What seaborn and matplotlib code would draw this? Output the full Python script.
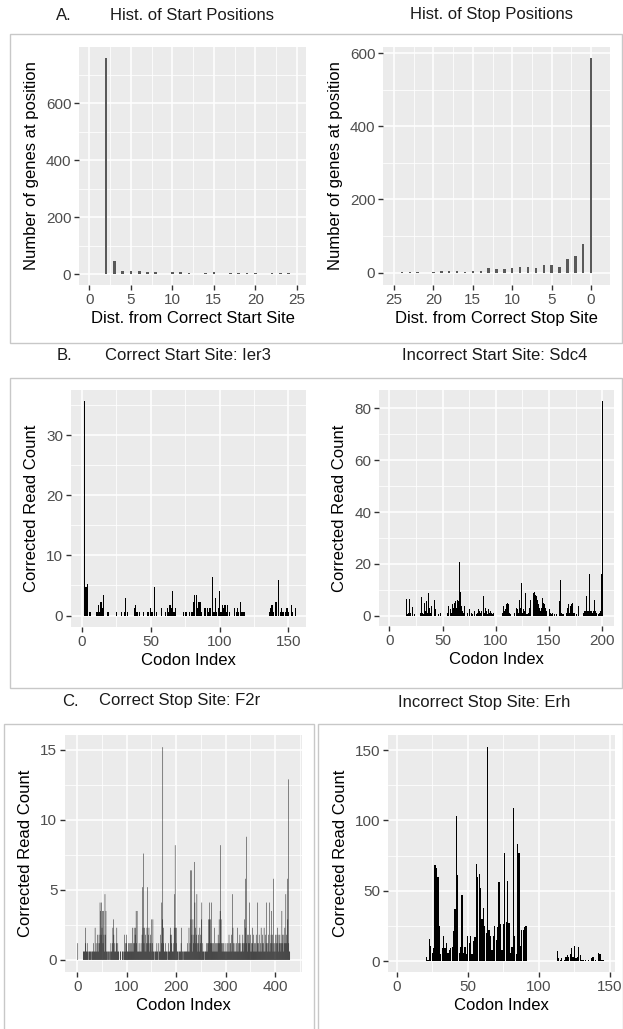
import matplotlib
matplotlib.use("Agg")
import matplotlib.pyplot as plt
from matplotlib.patches import Rectangle
import seaborn as sns

# A. histograms of start / stop positions
start_dist = [2, 3, 4, 5, 6, 7, 8, 9, 10, 11, 12, 13, 14, 15, 16, 17, 18, 19, 20, 21, 22, 23, 24]
start_count = [758, 47, 12, 10, 10, 9, 7, 2, 6, 6, 5, 2, 4, 6, 1, 3, 4, 3, 4, 2, 3, 3, 3]
stop_dist = [0, 1, 2, 3, 4, 5, 6, 7, 8, 9, 10, 11, 12, 13, 14, 15, 16, 17, 18, 19, 20, 21, 22, 23, 24]
stop_count = [587, 77, 46, 37, 16, 21, 21, 12, 14, 14, 12, 11, 11, 12, 5, 4, 2, 4, 5, 4, 2, 0, 1, 1, 1]

# B. correct start site: Ier3
ier3_codon = [2, 3, 4, 6, 11, 12, 13, 14, 15, 16, 19, 25, 29, 31, 32, 33, 38, 39, 40, 42,
              45, 48, 50, 51, 53, 54, 58, 61, 62, 63, 64, 65, 66, 67, 68, 74, 75, 76, 78, 80,
              81, 82, 83, 84, 85, 86, 87, 89, 90, 91, 92, 93, 95, 96, 97, 98, 99, 100, 101, 102,
              103, 104, 105, 106, 107, 111, 112, 113, 114, 115, 116, 117, 118, 136, 137, 138, 139, 141, 143, 144,
              145, 146, 148, 149, 150, 152, 153, 155]
ier3_count = [35.7, 4.7, 5.2, 0.6, 0.6, 1.8, 0.6, 2.3, 1.2, 3.5, 0.6, 0.6, 0.6, 0.6, 2.9, 0.6, 1.2, 1.8, 0.6, 0.6,
              0.6, 0.6, 1.2, 0.6, 4.7, 0.6, 1.2, 0.6, 1.2, 0.6, 1.8, 1.2, 4.1, 0.6, 1.2, 0.6, 0.6, 0.6, 0.6, 0.6,
              2.3, 3.5, 3.5, 1.2, 2.3, 2.3, 0.6, 1.2, 1.2, 1.2, 0.6, 1.2, 6.4, 0.6, 2.9, 0.6, 1.2, 4.1, 0.6, 1.8,
              1.2, 1.8, 0.6, 1.8, 0.6, 1.2, 0.6, 1.2, 0.6, 2.3, 0.6, 0.6, 0.6, 0.6, 1.2, 1.8, 0.6, 2.3, 5.9, 0.6,
              1.2, 0.6, 0.6, 1.2, 0.6, 1.8, 0.6, 1.2]

# B. incorrect start site: Sdc4
sdc4_codon = [16, 17, 18, 19, 20, 22, 24, 29, 30, 31, 32, 33, 34, 35, 36, 37, 38, 39, 40, 41,
              42, 43, 46, 48, 55, 56, 57, 58, 59, 60, 61, 62, 63, 64, 65, 66, 67, 68, 69, 70,
              71, 72, 73, 75, 77, 78, 80, 82, 83, 84, 85, 86, 87, 88, 89, 90, 91, 92, 93, 94,
              95, 96, 97, 98, 103, 106, 107, 108, 109, 110, 111, 112, 113, 114, 118, 119, 120, 121, 122, 123,
              124, 125, 126, 127, 128, 129, 130, 131, 132, 133, 134, 135, 136, 137, 138, 139, 140, 141, 142, 143,
              144, 145, 146, 147, 148, 149, 150, 151, 152, 153, 155, 157, 160, 161, 162, 163, 164, 166, 167, 168,
              169, 170, 171, 172, 173, 174, 176, 178, 180, 182, 183, 184, 185, 186, 187, 188, 189, 190, 191, 192,
              193, 194, 195, 196, 197, 198, 199, 200]
sdc4_count = [6.4, 0.6, 1.2, 6.4, 1.2, 3.2, 0.6, 1.2, 7.1, 1.2, 0.6, 5.0, 1.9, 5.6, 1.2, 8.7, 3.1, 1.2, 3.7, 8.2,
              6.2, 2.5, 0.6, 1.2, 1.2, 3.7, 2.5, 1.2, 4.4, 3.1, 5.0, 5.6, 3.1, 6.2, 5.6, 20.6, 9.3, 3.7, 1.9, 1.2,
              3.7, 0.6, 1.2, 2.5, 1.2, 0.6, 1.9, 0.6, 1.2, 2.5, 1.9, 1.2, 1.9, 7.6, 1.2, 3.1, 1.9, 0.6, 2.5, 1.2,
              1.9, 1.2, 0.6, 1.2, 0.6, 1.2, 3.7, 1.9, 2.5, 4.4, 5.0, 4.4, 1.2, 0.6, 1.2, 3.1, 2.5, 1.2, 6.2, 3.1,
              12.5, 1.2, 2.5, 1.9, 8.7, 0.6, 0.6, 1.2, 3.1, 6.2, 9.9, 8.7, 9.3, 8.1, 7.5, 6.2, 4.4, 3.1, 1.9, 3.1,
              6.8, 5.0, 4.4, 3.1, 1.9, 2.5, 2.5, 1.2, 0.6, 1.2, 0.6, 0.6, 5.6, 13.6, 1.2, 0.6, 0.6, 1.2, 3.1, 4.4,
              1.2, 3.7, 4.4, 5.0, 1.2, 1.2, 0.6, 3.7, 0.6, 1.2, 1.9, 1.9, 7.5, 1.9, 1.9, 16.0, 1.9, 1.9, 1.2, 1.9,
              6.2, 1.9, 1.2, 0.6, 1.2, 1.9, 16.0, 83.0]

# C. correct stop site: F2r (one value per codon, starting at codon 0)
f2r_count = [
    0, 1.2, 0, 0, 0, 0, 0, 0, 0, 0,
    0, 0, 0.6, 0.6, 0.6, 0.6, 1.2, 2.3, 0.6, 0.6,
    1.2, 0.6, 0.6, 0, 0.6, 0.6, 0.6, 0.6, 0, 0.6,
    0.6, 0.6, 0.6, 1.2, 0.6, 0.6, 2.3, 0.6, 1.2, 0.6,
    0.6, 1.8, 1.2, 0.6, 1.8, 1.2, 4.1, 3.5, 1.8, 4.1,
    2.3, 3.5, 1.2, 3.5, 1.8, 0.6, 4.7, 1.8, 3.5, 0.6,
    0.6, 0.6, 0, 0.6, 0.6, 0.6, 0, 0.6, 1.2, 0.6,
    0.6, 1.2, 2.3, 2.9, 1.8, 0.6, 1.2, 0.6, 0.6, 1.2,
    2.3, 0.6, 1.2, 0.6, 0.6, 0, 0, 0.6, 0.6, 0,
    0, 0.6, 0.6, 0, 0.6, 1.8, 0.6, 1.2, 0.6, 1.8,
    1.2, 0.6, 0.6, 1.2, 0.6, 1.2, 0.6, 0.6, 1.2, 0.6,
    1.2, 0.6, 2.3, 0.6, 1.2, 2.3, 1.2, 1.8, 2.3, 3.5,
    1.2, 3.5, 0.6, 0.6, 0.6, 1.2, 0.6, 0.6, 0.6, 1.2,
    0.6, 1.8, 5.2, 2.3, 7.6, 1.2, 2.3, 0.6, 1.8, 0.6,
    1.2, 2.3, 5.2, 1.2, 1.8, 2.3, 0.6, 1.2, 1.8, 1.2,
    2.9, 0.6, 1.2, 2.9, 0.6, 0.6, 0, 0.6, 0.6, 0.6,
    0.6, 1.2, 0.6, 0.6, 0, 1.2, 0.6, 0.6, 1.8, 0.6,
    1.2, 4.1, 2.9, 15.2, 2.3, 1.2, 0.6, 0.6, 1.2, 0.6,
    0.6, 0.6, 0, 0.6, 0.6, 1.2, 0.6, 0.6, 1.8, 2.3,
    1.2, 1.8, 0.6, 0.6, 1.2, 0.6, 2.3, 4.7, 8.2, 2.3,
    1.2, 2.3, 0.6, 0.6, 0.6, 0, 0.6, 0.6, 0.6, 0.6,
    1.2, 2.3, 0.6, 0.6, 0, 0.6, 0.6, 0.6, 0.6, 0.6,
    0.6, 0.6, 0.6, 1.2, 0.6, 0.6, 2.3, 0.6, 1.2, 6.4,
    2.9, 6.4, 1.8, 0.6, 2.9, 1.2, 1.8, 7.0, 4.1, 2.3,
    1.2, 1.8, 4.7, 1.2, 0.6, 1.8, 1.2, 0.6, 2.3, 1.2,
    1.8, 2.9, 4.1, 0.6, 1.2, 0.6, 0.6, 0, 0.6, 0.6,
    0.6, 1.2, 0.6, 0.6, 1.2, 2.9, 1.2, 4.1, 2.9, 1.2,
    2.9, 4.1, 1.2, 0.6, 1.2, 0.6, 1.2, 0.6, 2.3, 0.6,
    1.2, 0.6, 1.2, 0.6, 1.2, 1.8, 1.2, 2.9, 1.2, 3.5,
    8.2, 2.9, 1.2, 0.6, 1.2, 0.6, 1.2, 0.6, 0.6, 1.2,
    0.6, 0.6, 0.6, 1.2, 0.6, 1.2, 0.6, 1.8, 0.6, 1.2,
    1.2, 0.6, 1.8, 0.6, 4.7, 2.3, 1.2, 0.6, 0.6, 1.2,
    0.6, 0.6, 1.2, 0.6, 2.3, 0.6, 1.2, 0.6, 1.2, 1.8,
    0.6, 1.2, 0.6, 0.6, 1.2, 1.8, 1.2, 0.6, 2.9, 1.2,
    5.8, 2.3, 8.8, 1.2, 1.8, 0.6, 1.2, 1.8, 4.1, 1.2,
    1.8, 0.6, 1.2, 0.6, 1.2, 2.3, 0.6, 1.8, 1.2, 0.6,
    1.2, 0.6, 1.8, 0.6, 1.2, 4.1, 0.6, 1.2, 1.8, 0.6,
    0.6, 1.2, 2.3, 0.6, 1.2, 1.8, 0.6, 1.2, 2.3, 0.6,
    0.6, 1.8, 1.2, 4.1, 1.2, 0.6, 1.2, 1.8, 0.6, 4.1,
    0.6, 1.2, 1.8, 3.5, 1.2, 1.8, 0.6, 5.8, 1.2, 0.6,
    1.2, 1.8, 0.6, 1.2, 1.8, 2.3, 1.2, 0.6, 1.8, 1.2,
    1.8, 1.2, 0.6, 1.2, 3.5, 1.8, 1.2, 0.6, 1.8, 1.2,
    2.3, 1.2, 4.7, 1.8, 1.2, 5.8, 2.9, 12.9, 1.2, 0.6,
    0.6, 0,
]
f2r_codon = list(range(len(f2r_count)))

# C. incorrect stop site: Erh
erh_codon = [21, 22, 23, 24, 25, 26, 27, 28, 29, 30, 31, 32, 33, 34, 35, 36, 37, 38, 39, 40,
             41, 42, 43, 44, 45, 46, 47, 48, 49, 50, 51, 52, 53, 54, 55, 56, 57, 58, 59, 60,
             61, 62, 63, 64, 65, 66, 67, 68, 69, 70, 71, 72, 73, 74, 75, 76, 77, 78, 79, 80,
             81, 82, 83, 84, 85, 86, 87, 88, 89, 90, 91,
             113, 114, 115, 116, 118, 119, 120, 121, 122, 123, 124, 125, 126, 127, 128, 129, 130, 131, 133, 135,
             137, 138, 140, 142, 143, 144, 145]
erh_count = [3, 1, 16, 11, 6, 9, 68, 66, 60, 25, 5, 9, 18, 9, 13, 6, 8, 9, 10, 21,
             37, 103, 61, 6, 10, 47, 6, 10, 5, 18, 13, 18, 5, 14, 17, 69, 60, 62, 52, 30,
             38, 25, 20, 152, 22, 18, 8, 18, 25, 15, 24, 56, 26, 8, 26, 77, 28, 57, 27, 6,
             10, 109, 18, 5, 83, 77, 11, 22, 22, 24, 25,
             7, 2, 1, 2, 1, 3, 4, 3, 5, 9, 3, 11, 2, 3, 10, 4, 1, 1, 1, 1,
             2, 3, 1, 6, 5, 1, 1]

W, H = 623, 1029
fig = plt.figure(figsize=(W / 100, H / 100), dpi=100)
plt.rcParams["font.family"] = ["Liberation Sans", "DejaVu Sans"]

def px_axes(l, t, r, b):
    return fig.add_axes([l / W, 1 - b / H, (r - l) / W, (b - t) / H])

def minors(major, lo, hi):
    step = major[1] - major[0]
    pts = [m + step / 2 for m in [major[0] - step] + list(major)]
    return [p for p in pts if lo <= p <= hi]

def style(ax, xlim, ylim, xmaj, ymaj, xlabel, ylabel):
    ax.set_facecolor("#EBEBEB")
    ax.set_xlim(*xlim)
    ax.set_ylim(*ylim)
    ax.set_xticks(xmaj)
    ax.set_yticks(ymaj)
    ax.set_xticks(minors(xmaj, min(xlim), max(xlim)), minor=True)
    ax.set_yticks(minors(ymaj, min(ylim), max(ylim)), minor=True)
    ax.grid(which="major", color="white", lw=1.1)
    ax.grid(which="minor", color="white", lw=0.55)
    ax.set_axisbelow(True)
    ax.tick_params(which="minor", length=0)
    ax.tick_params(which="major", length=3.5, width=1.0, color="#333333",
                   labelcolor="#4D4D4D", labelsize=11, pad=2)
    for s in ax.spines.values():
        s.set_visible(False)
    ax.set_xlabel(xlabel, fontsize=12, color="black", labelpad=3)
    ax.set_ylabel(ylabel, fontsize=12, color="black", labelpad=5)

def bars(ax, x, y, color, width, snap=None):
    sns.barplot(x=x, y=y, native_scale=True, color=color, saturation=1,
                width=width, errorbar=None, linewidth=0, snap=snap, ax=ax)

# row A
ax = px_axes(79, 47, 306, 285)
bars(ax, start_dist, start_count, "#595959", 0.32)
style(ax, (-1.25, 26.1), (-38, 798), [0, 5, 10, 15, 20, 25], [0, 200, 400, 600],
      "Dist. from Correct Start Site", "Number of genes at position")

ax = px_axes(383, 47, 610, 285)
bars(ax, stop_dist, stop_count, "#595959", 0.3)
style(ax, (26.4, -2.4), (-34, 617), [0, 5, 10, 15, 20, 25], [0, 200, 400, 600],
      "Dist. from Correct Stop Site", "Number of genes at position")

# row B
ax = px_axes(71, 390, 306, 627)
bars(ax, ier3_codon, ier3_count, "black", 0.9)
style(ax, (-7.8, 162.7), (-1.9, 37.5), [0, 50, 100, 150], [0, 10, 20, 30],
      "Codon Index", "Corrected Read Count")

ax = px_axes(379, 390, 614, 626)
bars(ax, sdc4_codon, sdc4_count, "black", 0.9)
style(ax, (-9.7, 211), (-4, 87.1), [0, 50, 100, 150, 200], [0, 20, 40, 60, 80],
      "Codon Index", "Corrected Read Count")

# row C
ax = px_axes(65, 735, 302, 972)
bars(ax, f2r_codon, f2r_count, "black", 0.9, snap=False)
style(ax, (-24.9, 454.7), (-0.86, 16.07), [0, 100, 200, 300, 400], [0, 5, 10, 15],
      "Codon Index", "Corrected Read Count")

ax = px_axes(388, 735, 615, 972)
bars(ax, erh_codon, erh_count, "black", 0.9)
style(ax, (-6.1, 153.5), (-7.8, 160.7), [0, 50, 100, 150], [0, 50, 100, 150],
      "Codon Index", "Corrected Read Count")

# titles
def ftext(x, y, s, ha="center"):
    fig.text(x / W, 1 - y / H, s, ha=ha, va="center", fontsize=12, color="#1a1a1a")

ftext(56, 15, "A.", ha="left")
ftext(192, 15, "Hist. of Start Positions")
ftext(491, 15, "Hist. of Stop Positions")
ftext(57, 355, "B.", ha="left")
ftext(188, 355, "Correct Start Site: Ier3")
ftext(495, 355, "Incorrect Start Site: Sdc4")
ftext(62, 701, "C.", ha="left")
ftext(180, 701, "Correct Stop Site: F2r")
ftext(484, 703, "Incorrect Stop Site: Erh")

# frames around panel groups
def frame(l, t, r, b):
    fig.add_artist(Rectangle((l / W, 1 - b / H), (r - l) / W, (b - t) / H,
                             transform=fig.transFigure, fill=False,
                             edgecolor="#c8c8c8", lw=1.0))

frame(9.5, 34.5, 621.5, 343.5)
frame(9.5, 378.5, 621.5, 687.5)
frame(3.5, 723.5, 313.5, 1040)
frame(317.5, 723.5, 622.5, 1040)

fig.savefig("out.png", dpi=100)
